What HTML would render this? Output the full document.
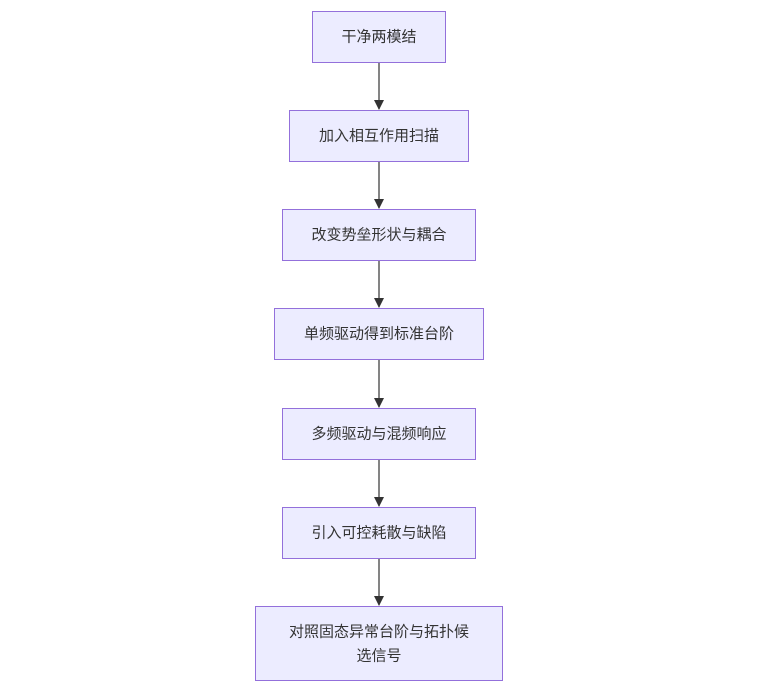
<!DOCTYPE html>
<html><head><meta charset="utf-8"><style>
html,body{margin:0;padding:0;background:#fff;width:760px;height:692px;overflow:hidden}
text{font-family:"Liberation Sans","Noto Sans CJK SC",sans-serif;font-size:15px;fill:#333;text-anchor:middle;dominant-baseline:central}
rect{fill:#ECECFF;stroke:#9370DB;stroke-width:1}
line{stroke:#333;stroke-width:1.2}
</style></head><body>
<svg width="760" height="692" xmlns="http://www.w3.org/2000/svg">
<defs><marker id="a" markerWidth="10" markerHeight="10" refX="9" refY="5" orient="auto" markerUnits="userSpaceOnUse"><path d="M0,0 L10,5 L0,10 z" fill="#333"/></marker></defs>
<line x1="379" y1="62" x2="379" y2="109" marker-end="url(#a)"/>
<line x1="379" y1="161" x2="379" y2="208" marker-end="url(#a)"/>
<line x1="379" y1="260" x2="379" y2="307" marker-end="url(#a)"/>
<line x1="379" y1="360" x2="379" y2="407" marker-end="url(#a)"/>
<line x1="379" y1="459" x2="379" y2="506" marker-end="url(#a)"/>
<line x1="379" y1="558" x2="379" y2="605" marker-end="url(#a)"/>
<rect x="312.5" y="11.5" width="133" height="51"/><text x="379" y="37">干净两模结</text>
<rect x="289.5" y="110.5" width="179" height="51"/><text x="379" y="136">加入相互作用扫描</text>
<rect x="282.5" y="209.5" width="193" height="51"/><text x="379" y="235">改变势垒形状与耦合</text>
<rect x="274.5" y="308.5" width="209" height="51"/><text x="379" y="334">单频驱动得到标准台阶</text>
<rect x="282.5" y="408.5" width="193" height="51"/><text x="379" y="434">多频驱动与混频响应</text>
<rect x="282.5" y="507.5" width="193" height="51"/><text x="379" y="533">引入可控耗散与缺陷</text>
<rect x="255.5" y="606.5" width="247" height="74"/><text x="379" y="632">对照固态异常台阶与拓扑候</text><text x="379" y="656">选信号</text>
</svg>
</body></html>
